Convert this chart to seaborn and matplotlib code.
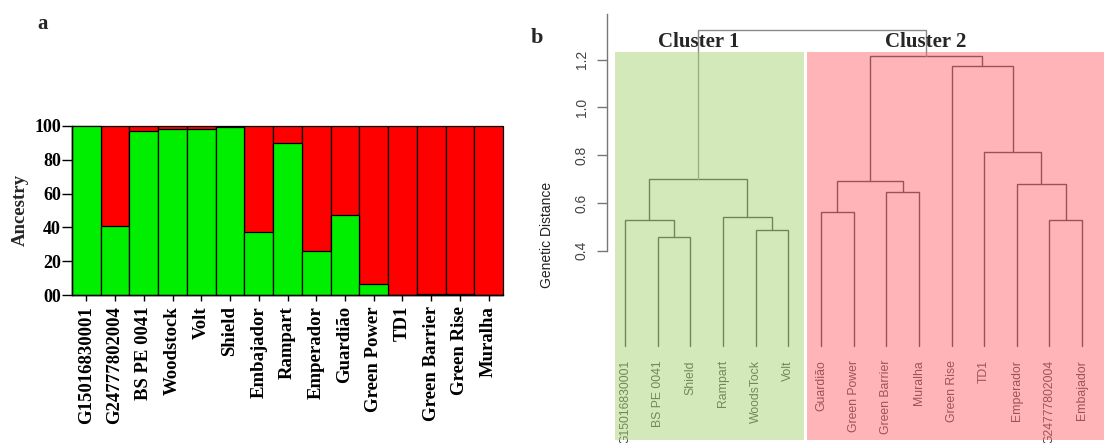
import matplotlib
matplotlib.use("Agg")
import matplotlib.pyplot as plt
from matplotlib.patches import Rectangle
import seaborn as sns
import pandas as pd

# ---------------- data ----------------
cultivars_a = ["G15016830001", "G24777802004", "BS PE 0041", "Woodstock", "Volt", "Shield",
               "Embajador", "Rampart", "Emperador", "Guardião", "Green Power", "TD1",
               "Green Barrier", "Green Rise", "Muralha"]
green_pct = [100, 41, 96.8, 98.2, 98.2, 99.2, 37, 90, 26, 47.5, 6.7, 0, 0.3, 0.5, 0]
red_pct = [0, 59, 3.2, 1.8, 1.8, 0.8, 63, 10, 74, 52.5, 93.3, 100, 99.7, 99.5, 100]
ytick_vals_a = [0, 20, 40, 60, 80, 100]
ytick_labels_a = ["00", "20", "40", "60", "80", "100"]

# dendrogram: (left, right, merge height)
tree = (
    (("G15016830001", ("BS PE 0041", "Shield", 0.459), 0.529),
     ("Rampart", ("WoodsTock", "Volt", 0.488), 0.541), 0.700),
    ((("Guardião", "Green Power", 0.561), ("Green Barrier", "Muralha", 0.647), 0.691),
     ("Green Rise", ("TD1", ("Emperador", ("G24777802004", "Embajador", 0.529), 0.681), 0.812), 1.174),
     1.215),
    1.324)
cluster_names = ["Cluster 1", "Cluster 2"]
ytick_vals_b = [0.4, 0.6, 0.8, 1.0, 1.2]

# ---------------- style ----------------
sns.set_style("ticks")
plt.rcParams["font.family"] = ["Liberation Serif", "DejaVu Serif"]

W, H = 1104, 443
fig = plt.figure(figsize=(W / 100, H / 100), dpi=100)

# ---------------- panel a ----------------
ax1 = fig.add_axes([72 / W, 1 - 295 / H, (503 - 72) / W, (295 - 126) / H])
df = pd.DataFrame({"cultivar": cultivars_a, "green": green_pct, "red": red_pct})
df["total"] = df["green"] + df["red"]
sns.barplot(data=df, x="cultivar", y="total", color="#ff0000", width=1.0, saturation=1,
            edgecolor="black", linewidth=0.9, ax=ax1)
sns.barplot(data=df, x="cultivar", y="green", color="#00ee00", width=1.0, saturation=1,
            edgecolor="black", linewidth=0.9, ax=ax1)
for p in ax1.patches:
    p.set_clip_on(False)
ax1.set_xlim(-0.5, len(cultivars_a) - 0.5)
ax1.set_ylim(0, 100)
ax1.set_yticks(ytick_vals_a)
ax1.set_yticklabels(ytick_labels_a, fontsize=13, fontweight="bold")
ax1.set_xticks(range(len(cultivars_a)))
ax1.set_xticklabels(cultivars_a, rotation=90, fontsize=13.5, fontweight="bold", va="top")
ax1.tick_params(axis="y", length=7, width=1, pad=1, colors="black")
ax1.tick_params(axis="x", length=4, width=1, pad=4, colors="black")
ax1.set_xlabel("")
ax1.set_ylabel("Ancestry", fontsize=13.5, fontweight="bold", labelpad=4)
sns.despine(ax=ax1, top=True, right=True)
for s in ["left", "bottom"]:
    ax1.spines[s].set_color("black")
    ax1.spines[s].set_linewidth(1)
fig.text(43 / W, 1 - 24 / H, "a", fontsize=15, fontweight="bold", ha="center", va="center")

# ---------------- panel b ----------------
ax2 = fig.add_axes([606.7 / W, 0, (W - 606.7) / W, 1])
ax2.patch.set_alpha(0)

leaf_order = []
def collect(node):
    if isinstance(node, str):
        leaf_order.append(node)
    else:
        collect(node[0]); collect(node[1])
collect(tree)
pos = {name: i + 1 for i, name in enumerate(leaf_order)}

line_col = "#383838"
def draw(node):
    if isinstance(node, str):
        return pos[node], 0.0
    xl, hl = draw(node[0])
    xr, hr = draw(node[1])
    h = node[2]
    col = "#8a8a8a" if node is tree else line_col
    ax2.plot([xl, xl, xr, xr], [hl, h, h, hr], color=col, lw=1.0, zorder=2,
             solid_joinstyle="miter")
    return (xl + xr) / 2, h

draw(tree)

def info(node):
    if isinstance(node, str):
        return pos[node], [node]
    a, la = info(node[0]); b, lb = info(node[1])
    return (a + b) / 2, la + lb

# cluster boxes and titles
xmin_ax, xmax_ax = 0.4395, 15.67
ymin_ax, ymax_ax = -0.404, 1.449
box_cols = ["#abd577", "#ff6d73"]
for k, sub in enumerate(tree[:2]):
    cx, leaves = info(sub)
    lo = min(pos[l] for l in leaves)
    hi = max(pos[l] for l in leaves)
    x0 = lo - (0.31 if k == 0 else 0.42)
    x1 = hi + 0.47 if k == 0 else xmax_ax
    ax2.add_patch(Rectangle((x0, -0.39), x1 - x0, 1.232 + 0.39, facecolor=box_cols[k],
                            edgecolor="none", alpha=0.5, zorder=3))
    ax2.text(cx, 1.274, cluster_names[k], fontsize=15, fontweight="bold", ha="center",
             va="center", family=["Liberation Serif"], zorder=4)

for name, x in pos.items():
    ax2.text(x, -0.057, name, rotation=90, ha="center", va="top", fontsize=8.8,
             color="#3a3a3a", family=["Liberation Sans"], zorder=2)

ax2.set_xlim(xmin_ax, xmax_ax)
ax2.set_ylim(ymin_ax, ymax_ax)
ax2.set_xticks([])
ax2.set_yticks(ytick_vals_b)
ax2.set_yticklabels([f"{v:.1f}" for v in ytick_vals_b], rotation=90, va="center",
                    fontsize=10, family=["Liberation Sans"], color="#444444")
ax2.tick_params(axis="y", length=7, width=1, color="#777777", pad=6)
for s in ["top", "right", "bottom"]:
    ax2.spines[s].set_visible(False)
ax2.spines["left"].set_bounds(0.4, 1.39)
ax2.spines["left"].set_color("#777777")
ax2.spines["left"].set_linewidth(1)

fig.text(547 / W, 1 - 235 / H, "Genetic Distance", rotation=90, ha="center", va="center",
         fontsize=10, family=["Liberation Sans"], color="#222222")
fig.text(537 / W, 1 - 38 / H, "b", fontsize=16, fontweight="bold", ha="center", va="center")

fig.savefig("out.png", dpi=100)
